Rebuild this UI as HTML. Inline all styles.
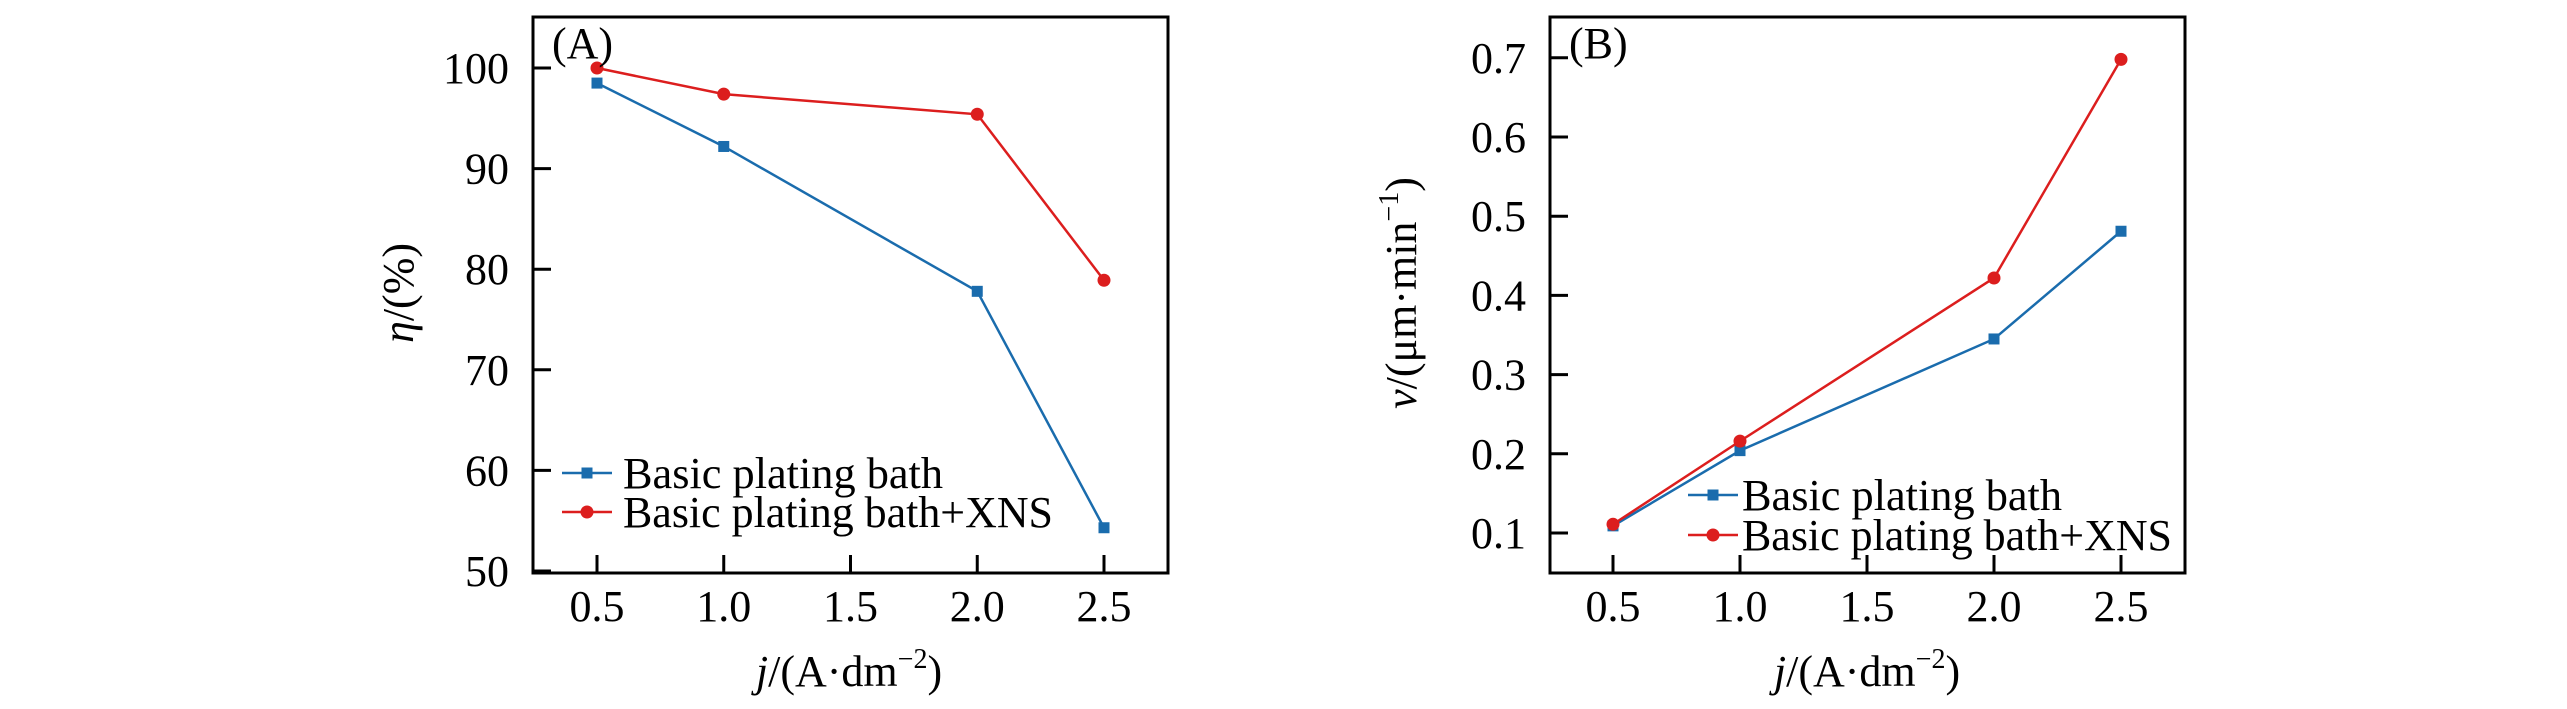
<!DOCTYPE html>
<html><head><meta charset="utf-8"><style>
html,body{margin:0;padding:0;background:#fff;}
svg{display:block;font-family:"Liberation Serif",serif;}
</style></head><body>
<svg id="fig" width="2567" height="709" viewBox="0 0 2567 709" xmlns="http://www.w3.org/2000/svg"></svg>
<script>
const categories = [0.5, 1.0, 2.0, 2.5];
const xTicks = [0.5, 1.0, 1.5, 2.0, 2.5];
const xTickLabels = ["0.5", "1.0", "1.5", "2.0", "2.5"];
const etaBasic = [98.5, 92.2, 77.8, 54.3];
const etaXNS = [100, 97.4, 95.4, 78.9];
const etaTicks = [50, 60, 70, 80, 90, 100];
const etaTickLabels = ["50", "60", "70", "80", "90", "100"];
const vBasic = [0.109, 0.204, 0.345, 0.481];
const vXNS = [0.111, 0.216, 0.422, 0.698];
const vTicks = [0.1, 0.2, 0.3, 0.4, 0.5, 0.6, 0.7];
const vTickLabels = ["0.1", "0.2", "0.3", "0.4", "0.5", "0.6", "0.7"];
const seriesNames = ["Basic plating bath", "Basic plating bath+XNS"];

const NS = "http://www.w3.org/2000/svg";
const svg = document.getElementById("fig");
const BLUE = "#1a6cad", RED = "#dc1e1e";
function mk(tag, attrs, parent){ const e=document.createElementNS(NS,tag); for(const k in attrs) e.setAttribute(k,attrs[k]); (parent||svg).appendChild(e); return e; }

function panel(cfg){
  const g = mk("g", {});
  
  
  const X = v => cfg.x0 + (v - 0.5) * cfg.xs;
  const Y = v => cfg.y0 - (v - cfg.ymin) * cfg.ys;
  const f = mk("rect", {x:cfg.L, y:17, width:cfg.R-cfg.L, height:573-17, fill:"none", stroke:"#000", "stroke-width":3}, g);
  
  
  xTicks.forEach((t,i)=>{
    const l = mk("line", {x1:X(t), x2:X(t), y1:573, y2:555, stroke:"#000", "stroke-width":3}, g);
    
    
    const tx = mk("text", {x:X(t), y:621, "font-size":44, "text-anchor":"middle"}, g);
    tx.textContent = xTickLabels[i];
    
    
  });
  cfg.yTicks.forEach((t,i)=>{
    const l = mk("line", {x1:cfg.L, x2:cfg.L+18, y1:Y(t), y2:Y(t), stroke:"#000", "stroke-width":3}, g);
    
    
    const tx = mk("text", {x:cfg.L-24, y:Y(t)+15, "font-size":44, "text-anchor":"end"}, g);
    tx.textContent = cfg.yTickLabels[i];
    
    
  });
  const series = [[cfg.basic, BLUE, "sq"], [cfg.xns, RED, "ci"]];
  series.forEach(([vals,col,m], si)=>{
    const pts = categories.map((c,i)=>X(c)+","+Y(vals[i])).join(" ");
    const pl = mk("polyline", {points:pts, fill:"none", stroke:col, "stroke-width":2.5}, g);
    
    
    categories.forEach((c,i)=>{
      let e;
      if(m==="sq") e = mk("rect", {x:X(c)-5.5, y:Y(vals[i])-5.5, width:11, height:11, fill:col}, g);
      else e = mk("circle", {cx:X(c), cy:Y(vals[i]), r:6.5, fill:col}, g);
      
      
    });
  });
  series.forEach(([vals,col,m], si)=>{
    const ly = cfg.legY[si];
    const lg = mk("g", {}, g);
    
    
    mk("line", {x1:cfg.legX, x2:cfg.legX+50, y1:ly, y2:ly, stroke:col, "stroke-width":2.5}, lg);
    if(m==="sq") mk("rect", {x:cfg.legX+25-5.5, y:ly-5.5, width:11, height:11, fill:col}, lg);
    else mk("circle", {cx:cfg.legX+25, cy:ly, r:6.5, fill:col}, lg);
    const t = mk("text", {x:cfg.legX+cfg.legGap, y:ly+15, "font-size":44, textLength: si===0?320:430, lengthAdjust:"spacingAndGlyphs"}, lg);
    t.textContent = seriesNames[si];
  });
  const pl = mk("text", {x:cfg.L+19, y:58, "font-size":44}, g);
  pl.textContent = cfg.label;
  
  
  const xt = mk("text", {x:cfg.xTitleX, y:686, "font-size":44, "text-anchor":"middle"}, g);
  xt.innerHTML = '<tspan font-style="italic">j</tspan>/(A·dm<tspan font-size="28" dy="-18">−2</tspan><tspan dy="18">)</tspan>';
  
  
  const yt = mk("text", {x:0, y:0, "font-size":44, "text-anchor":"middle", transform:`translate(${cfg.yTitleX},293) rotate(-90)`}, g);
  yt.innerHTML = cfg.yTitle;
  
  
}

panel({name:"chart-a-efficiency", L:533, R:1168, x0:597, xs:253.5, y0:571, ymin:50, ys:10.06,
  yTicks:etaTicks, yTickLabels:etaTickLabels, basic:etaBasic, xns:etaXNS,
  legX:562, legY:[473,512], legGap:61, label:"(A)", xTitleX:849, yTitleX:413,
  yTitle:'<tspan font-style="italic">η</tspan>/(%)'});
panel({name:"chart-b-rate", L:1550, R:2185, x0:1613, xs:254, y0:533, ymin:0.1, ys:792,
  yTicks:vTicks, yTickLabels:vTickLabels, basic:vBasic, xns:vXNS,
  legX:1688, legY:[495,535], legGap:54, label:"(B)", xTitleX:1867, yTitleX:1416,
  yTitle:'<tspan font-style="italic">v</tspan>/(μm·min<tspan font-size="28" dy="-18">−1</tspan><tspan dy="18">)</tspan>'});
</script>
</body></html>
